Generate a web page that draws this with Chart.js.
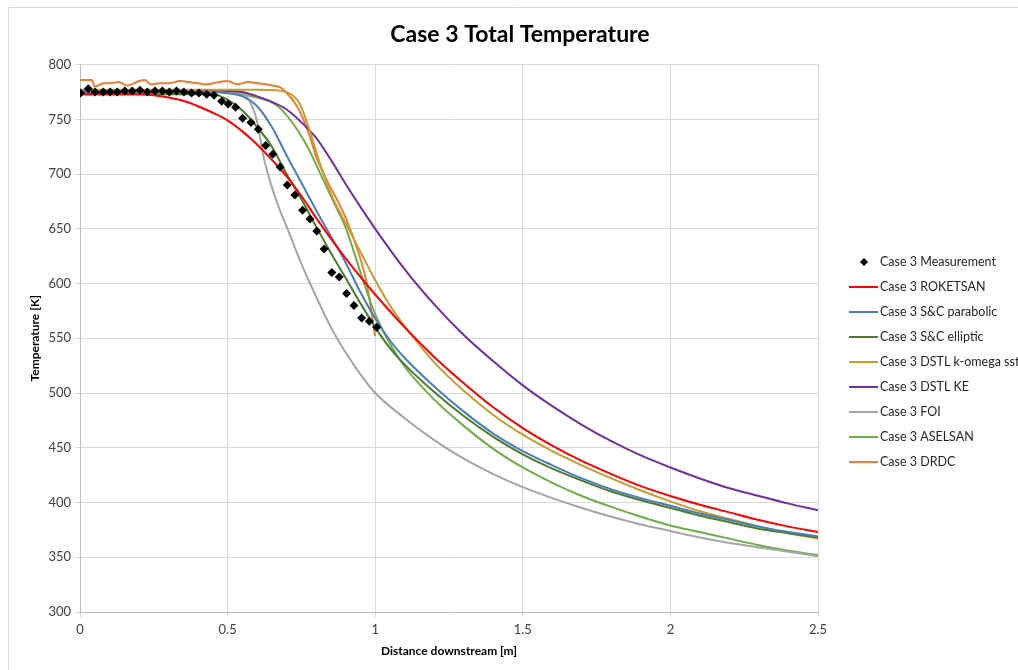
<!DOCTYPE html>
<html>
<head>
<meta charset="utf-8">
<title>Case 3 Total Temperature</title>
<script src="https://cdn.jsdelivr.net/npm/chart.js@4.4.1/dist/chart.umd.min.js"></script>
<style>
  body { margin: 0; background: #fff; }
  #wrap { width: 1018px; height: 670px; }
</style>
</head>
<body>
<div id="wrap"><canvas id="chart" width="1018" height="670"></canvas></div>
<script>
// ---- data ----
const xTicks = [0, 0.5, 1, 1.5, 2, 2.5];
const yTicks = [300, 350, 400, 450, 500, 550, 600, 650, 700, 750, 800];

const measX = [0.002,0.028,0.051,0.079,0.102,0.126,0.152,0.177,0.203,0.228,0.254,0.279,0.303,0.327,0.352,0.378,0.403,0.429,0.454,0.480,0.502,0.527,0.551,0.579,0.604,0.629,0.653,0.678,0.702,0.728,0.754,0.779,0.802,0.827,0.853,0.878,0.903,0.928,0.954,0.980,1.005];
const measT = [774,778,775,775,775,775,776,776,776.5,775,776,776,775,776,775,774,774,773,772,766.5,764,761,751,747,741,726,718,706.5,690,681,667,659,648,631.5,610,606,591,580,568.5,565.5,560];

const rokX = [0,0.2,0.25,0.3,0.35,0.4,0.45,0.5,0.55,0.6,0.65,0.7,0.75,0.8,0.85,0.9,0.95,1.0,1.1,1.2,1.3,1.4,1.5,1.6,1.7,1.8,1.9,2.0,2.1,2.2,2.3,2.4,2.5];
const rokT = [773,773,772,770,767,762,756,749,739,727,713,698,680,660,641,623,606,590,560,533,509,487,468,452,438,426,415,406,398,391,384,378,373];

const parX = [0,0.45,0.5,0.55,0.6,0.65,0.7,0.75,0.8,0.85,0.9,0.95,1.0,1.05,1.1,1.2,1.3,1.4,1.5,1.6,1.7,1.8,1.9,2.0,2.1,2.2,2.3,2.4,2.5];
const parT = [775,775,774,771,762,743,717,692,667,643,619,592,568,548,532,506,483,463,447,434,422,412,404,397,390,384,378,373,369];

const ellX = [0,0.45,0.5,0.55,0.6,0.65,0.7,0.75,0.8,0.85,0.9,0.95,1.0,1.05,1.1,1.2,1.3,1.4,1.5,1.6,1.7,1.8,1.9,2.0,2.1,2.2,2.3,2.4,2.5];
const ellT = [773,773,768,758,743,725,700,677,652,628,605,582,560,541,526,501,479,460,444,431,420,410,402,395,388,382,376,372,368];

const sstX = [0,0.6,0.68,0.72,0.745,0.78,0.81,0.85,0.9,0.95,1.0,1.05,1.1,1.2,1.3,1.4,1.5,1.6,1.7,1.8,1.9,2.0,2.1,2.2,2.3,2.4,2.5];
const sstT = [777,777,776,772,764,738,712,682,655,629,603,580,561,528,502,480,462,447,434,422,411,401,392,385,378,372,367];

const keX = [0,0.5,0.55,0.6,0.65,0.7,0.77,0.8,0.85,0.9,0.95,1.0,1.1,1.2,1.3,1.4,1.5,1.6,1.7,1.8,1.9,2.0,2.1,2.2,2.3,2.4,2.5];
const keT = [776,776,775,771,766,759,742,733,713,691,670,650,613,581,553,529,507,488,471,456,443,432,422,413,406,399,393];

const foiX = [0,0.54,0.56,0.58,0.6,0.62,0.64,0.66,0.68,0.7,0.75,0.8,0.85,0.9,0.95,1.0,1.1,1.2,1.3,1.4,1.5,1.6,1.7,1.8,1.9,2.0,2.1,2.2,2.3,2.4,2.5];
const foiT = [775,775,772,764,748,718,697,680,665,652,618,588,560,537,517,500,477,457,440,426,414,404,395,387,380,374,368,363,359,355,351];

const aseX = [0,0.45,0.5,0.58,0.67,0.735,0.78,0.82,0.86,0.9,0.96,1.0,1.05,1.1,1.2,1.3,1.4,1.5,1.6,1.7,1.8,1.9,2.0,2.1,2.2,2.3,2.4,2.5];
const aseT = [775,775,774,771,762,741,720,697,674,651,602,572,545,524,494,470,449,432,418,406,396,387,379,373,367,361,356,352];

const drdcX = [0,0.02,0.04,0.05,0.08,0.1,0.13,0.16,0.2,0.22,0.24,0.27,0.3,0.34,0.37,0.4,0.43,0.47,0.5,0.53,0.57,0.6,0.63,0.65,0.68,0.7,0.72,0.745,0.78,0.8,0.84,0.87,0.9,0.94,0.97,1.0];
const drdcT = [786,786,786,780,783,783,784,781,785,786,782,783,783,785,784,783,782,784,785,782,784,783,782,781,779,774,768,757,733,716,692,677,660,631,602,552];

const seriesNames = ['Case 3 Measurement','Case 3 ROKETSAN','Case 3 S&C parabolic','Case 3 S&C elliptic','Case 3 DSTL k-omega sst','Case 3 DSTL KE','Case 3 FOI','Case 3 ASELSAN','Case 3 DRDC'];
const seriesColors = ['#000000','#ff0000','#4a7ebb','#4a7c2a','#c79c2d','#7030a0','#a5a5a5','#70ad47','#ed7d31'];

// ---- helpers ----
function pts(xs, ys) { return xs.map((x, i) => ({ x: x, y: ys[i] })); }

function lineSet(i, xs, ys) {
    return {
        label: seriesNames[i], data: pts(xs, ys), showLine: true,
        borderColor: seriesColors[i], backgroundColor: seriesColors[i],
        borderWidth: 2, pointRadius: 0, cubicInterpolationMode: 'monotone'
    };
}

const datasets = [
    { label: seriesNames[0], data: pts(measX, measT), showLine: false,
      pointStyle: 'rectRot', pointRadius: 4.5, borderWidth: 0,
      backgroundColor: '#000', borderColor: '#000' },
    lineSet(1, rokX, rokT),
    lineSet(2, parX, parT),
    lineSet(3, ellX, ellT),
    lineSet(4, sstX, sstT),
    lineSet(5, keX, keT),
    lineSet(6, foiX, foiT),
    lineSet(7, aseX, aseT),
    lineSet(8, drdcX, drdcT)
];

// frame + legend on the right, drawn by hand
const sideLegend = {
    id: 'sideLegend',
    beforeDraw(chart) {
        const c = chart.ctx;
        c.save();
        c.strokeStyle = '#d9d9d9';
        c.lineWidth = 1;
        c.beginPath();
        c.moveTo(8.5, 670); c.lineTo(8.5, 7.5); c.lineTo(1018, 7.5);
        c.stroke();
        c.restore();
    },
    afterDraw(chart) {
        const c = chart.ctx;
        c.save();
        c.font = '12.5px Lato, "Open Sans", sans-serif';
        c.textBaseline = 'middle';
        seriesNames.forEach((name, i) => {
            const y = 262 + i * 25;
            if (i === 0) {
                c.fillStyle = '#000';
                c.beginPath();
                c.moveTo(864, y - 4); c.lineTo(868, y); c.lineTo(864, y + 4); c.lineTo(860, y);
                c.closePath(); c.fill();
            } else {
                c.strokeStyle = seriesColors[i];
                c.lineWidth = 2;
                c.beginPath(); c.moveTo(849, y); c.lineTo(878, y); c.stroke();
            }
            c.fillStyle = '#262626';
            c.fillText(name, 880, y);
        });
        c.restore();
    }
};

Chart.defaults.font.family = 'Lato, "Open Sans", sans-serif';

new Chart(document.getElementById('chart'), {
    type: 'scatter',
    data: { datasets },
    plugins: [sideLegend],
    options: {
        responsive: false,
        animation: false,
        layout: { padding: { left: 22, right: 0, top: 0, bottom: 0 } },
        plugins: {
            legend: { display: false },
            tooltip: { enabled: false },
            title: {
                display: true, text: 'Case 3 Total Temperature',
                color: '#000', font: { size: 23, weight: 'bold' },
                padding: { top: 21, bottom: 16 }
            }
        },
        scales: {
            x: {
                type: 'linear', min: 0, max: 2.5,
                afterBuildTicks: s => { s.ticks = xTicks.map(v => ({ value: v })); },
                afterFit: s => { s.height = 58; },
                grid: { color: '#d9d9d9', tickLength: 5 },
                border: { color: '#bfbfbf' },
                ticks: { color: '#404040', font: { size: 13 }, padding: 5, maxRotation: 0,
                         callback: v => String(v) },
                title: { display: true, text: 'Distance downstream [m]', color: '#000',
                         font: { size: 12, weight: 'bold' }, padding: { top: 0, bottom: 12 } }
            },
            y: {
                min: 300, max: 800,
                afterBuildTicks: s => { s.ticks = yTicks.map(v => ({ value: v })); },
                afterFit: s => { s.width = 58; },
                grid: { color: '#d9d9d9', tickLength: 5 },
                border: { color: '#bfbfbf' },
                ticks: { color: '#404040', font: { size: 13 }, padding: 4 },
                title: { display: true, text: 'Temperature [K]', color: '#000',
                         font: { size: 12, weight: 'bold' }, padding: { top: 6, bottom: 0 } }
            },
            side: {
                type: 'linear', position: 'right', display: true,
                grid: { display: false }, border: { display: false },
                ticks: { display: false },
                afterFit: s => { s.width = 200; }
            }
        }
    }
});
</script>
</body>
</html>
